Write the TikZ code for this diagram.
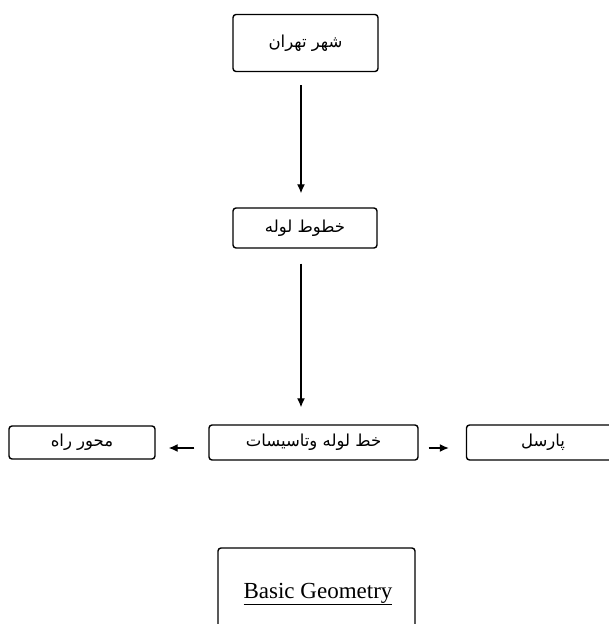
\documentclass[tikz,border=0pt]{standalone}
\usepackage{fontspec}
\setmainfont{Liberation Serif}
\newfontfamily\farsi[Script=Arabic]{DejaVu Sans}
\TeXXeTstate=1
\usetikzlibrary{arrows.meta,calc}

\newcommand{\fa}[1]{{\farsi\fontsize{16.5}{20}\selectfont\beginR #1\endR}}

\begin{document}
\begin{tikzpicture}[x=1pt,y=-1pt,
    box/.style={draw,rectangle,rounded corners=3pt,line width=1.4pt,inner sep=0pt},
    arr/.style={-{Latex[length=9pt,width=8pt]},line width=1.3pt}]
    \clip (0,0) rectangle (609,624);

    \node[box,minimum width=145pt,minimum height=57pt] (city) at (305.5,43) {\fa{شهر تهران}};
    \node[box,minimum width=144pt,minimum height=40pt] (pipes) at (305,228) {\fa{خطوط لوله}};

    \node[box,minimum width=209pt,minimum height=35pt] (network) at (313.5,442.5) {\fa{خط لوله وتاسیسات}};
    \node[box,minimum width=146pt,minimum height=33pt] (road) at (82,442.5) {\fa{محور راه}};
    \node[box,minimum width=153pt,minimum height=35pt] (parcel) at (543,442.5) {\fa{پارسل}};

    \node[box,minimum width=197pt,minimum height=100pt] (geo) at (316.5,598) {};
    \node (geotext) at (318,594) {\fontsize{23}{27}\selectfont\underline{Basic Geometry}};

    \draw[arr,shorten <=13pt,shorten >=14pt] ([xshift=-4.5]city.south) -- ([xshift=-4]pipes.north);
    \draw[arr,shorten <=15pt,shorten >=17pt] ([xshift=-4]pipes.south) -- ([xshift=-4]pipes.south |- network.north);
    \draw[arr,shorten <=14pt,shorten >=13pt] ([yshift=-5.5]network.west) -- ([yshift=-5.5]network.west -| road.east);
    \draw[arr,shorten <=10pt,shorten >=17pt] ([yshift=-5.5]network.east) -- ([yshift=-5.5]network.east -| parcel.west);
\end{tikzpicture}
\end{document}
